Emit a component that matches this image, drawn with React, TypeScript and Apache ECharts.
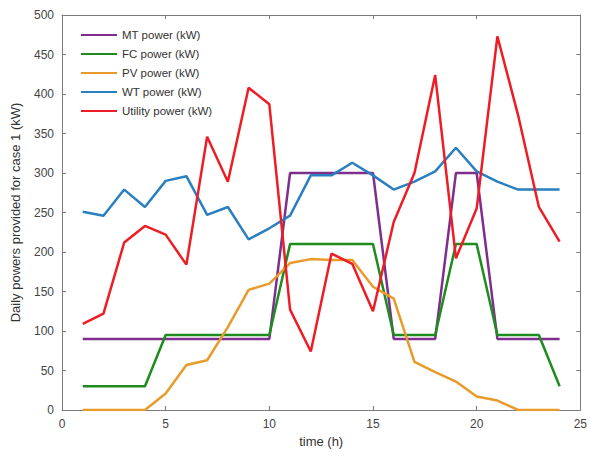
import React, { useEffect, useRef } from "react";
import * as echarts from "echarts";

const hours = [1,2,3,4,5,6,7,8,9,10,11,12,13,14,15,16,17,18,19,20,21,22,23,24];
const mtPower = [90,90,90,90,90,90,90,90,90,90,300,300,300,300,300,90,90,90,300,300,90,90,90,90];
const fcPower = [30,30,30,30,95,95,95,95,95,95,210,210,210,210,210,95,95,95,210,210,95,95,95,30];
const pvPower = [0,0,0,0,21,57,63,105,152,160,186,191,190,190,156,141,61,48,36,17,12,0,0,0];
const wtPower = [251,246,279,257,290,296,247,257,216,230,246,297,297,313,297,279,289,302,332,302,289,279,279,279];
const utilityPower = [109,122,212,233,222,184,346,289,408,387,127,74,198,185,125,238,300,424,192,255,473,373,257,213];

const seriesDefs = [
  { name: "MT power (kW)", data: mtPower, color: "#7E2F8E" },
  { name: "FC power (kW)", data: fcPower, color: "#1E8C1E" },
  { name: "PV power (kW)", data: pvPower, color: "#E89B2B" },
  { name: "WT power (kW)", data: wtPower, color: "#2A7FC0" },
  { name: "Utility power (kW)", data: utilityPower, color: "#EE1C25" },
];

export default function App() {
  const ref = useRef<HTMLDivElement>(null);
  useEffect(() => {
    document.body.style.margin = "0";
    const chart = echarts.init(ref.current!, null, { renderer: "svg" });
    const font = "'Liberation Sans', Arial, sans-serif";
    const axisLine = { show: true, onZero: false, lineStyle: { color: "#7a7a7a", width: 1 } };
    const tick = { show: true, inside: true, length: 4, lineStyle: { color: "#7a7a7a" } };
    chart.setOption({
      animation: false,
      backgroundColor: "#ffffff",
      grid: { left: 62, right: 8, top: 15, bottom: 52, show: false },
      legend: {
        orient: "vertical",
        left: 76,
        top: 24,
        itemWidth: 36,
        itemHeight: 10,
        itemGap: 7,
        textStyle: { fontFamily: font, fontSize: 11.5, color: "#333" },
        data: seriesDefs.map((s) => ({ name: s.name, icon: "path://M0,4.5L36,4.5L36,6.5L0,6.5Z" })),
      },
      xAxis: [
        {
          type: "value",
          min: 0,
          max: 25,
          interval: 5,
          name: "time (h)",
          nameLocation: "middle",
          nameGap: 24,
          nameTextStyle: { fontFamily: font, fontSize: 13, color: "#333" },
          axisLine,
          axisTick: tick,
          splitLine: { show: false },
          axisLabel: { fontFamily: font, fontSize: 12, color: "#444", margin: 8 },
        },
        {
          type: "value",
          position: "top",
          min: 0,
          max: 25,
          interval: 5,
          axisLine,
          axisTick: tick,
          splitLine: { show: false },
          axisLabel: { show: false },
        },
      ],
      yAxis: [
        {
          type: "value",
          min: 0,
          max: 500,
          interval: 50,
          name: "Daily powers provided for case 1 (kW)",
          nameLocation: "middle",
          nameGap: 40,
          nameTextStyle: { fontFamily: font, fontSize: 13, color: "#333" },
          axisLine,
          axisTick: tick,
          splitLine: { show: false },
          axisLabel: { fontFamily: font, fontSize: 12, color: "#444", margin: 8 },
        },
        {
          type: "value",
          position: "right",
          min: 0,
          max: 500,
          interval: 50,
          axisLine,
          axisTick: tick,
          splitLine: { show: false },
          axisLabel: { show: false },
        },
      ],
      series: seriesDefs.map((s) => ({
        name: s.name,
        type: "line",
        xAxisIndex: 0,
        yAxisIndex: 0,
        data: hours.map((h, i) => [h, s.data[i]]),
        showSymbol: false,
        symbol: "none",
        lineStyle: { color: s.color, width: 2.5 },
        itemStyle: { color: s.color },
      })),
    });
    return () => chart.dispose();
  }, []);
  return <div ref={ref} style={{ width: 590, height: 462 }} />;
}
